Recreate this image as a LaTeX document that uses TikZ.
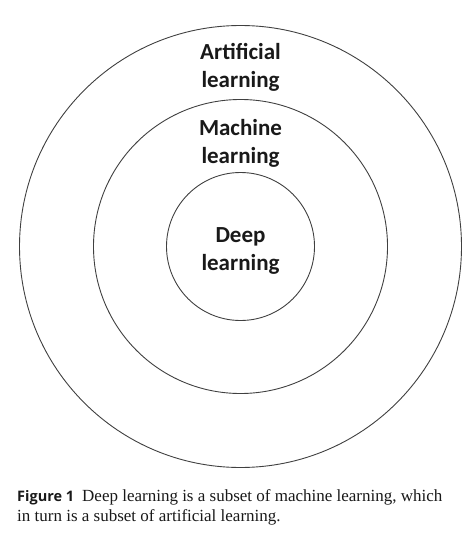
\documentclass[tikz,border=0pt]{standalone}
\usepackage{fontspec}
\setmainfont{Liberation Serif}
\newfontfamily\labelfont{Carlito}
\newfontfamily\figfont{Open Sans}
\begin{document}
\begin{tikzpicture}[x=1pt,y=-1pt,
  ring/.style={draw=black!75,line width=0.9pt},
  field/.style={font=\labelfont\bfseries\fontsize{23}{28}\selectfont,text=black!90,align=center,anchor=base,inner sep=0pt}]
\useasboundingbox (0,0) rectangle (474,545);
\coordinate (o) at (240.5,246.5);

\draw[ring] (o) circle[radius=221];
\draw[ring] (o) circle[radius=147];
\draw[ring] (o) circle[radius=74];

\node[field] (ai) at (240.5,88) {Artificial\\learning};
\node[field] (ml) at (240.5,164) {Machine\\learning};
\node[field] (dl) at (240.5,270) {Deep\\learning};

\node[anchor=base west,align=left,inner sep=0pt,text=black!90,font=\fontsize{17}{20}\selectfont] (cap) at (17,521)
  {{\figfont\bfseries\fontsize{14.5}{20}\selectfont Figure 1}\hspace{8pt}Deep learning is a subset of machine learning, which\\in turn is a subset of artificial learning.};
\end{tikzpicture}
\end{document}
